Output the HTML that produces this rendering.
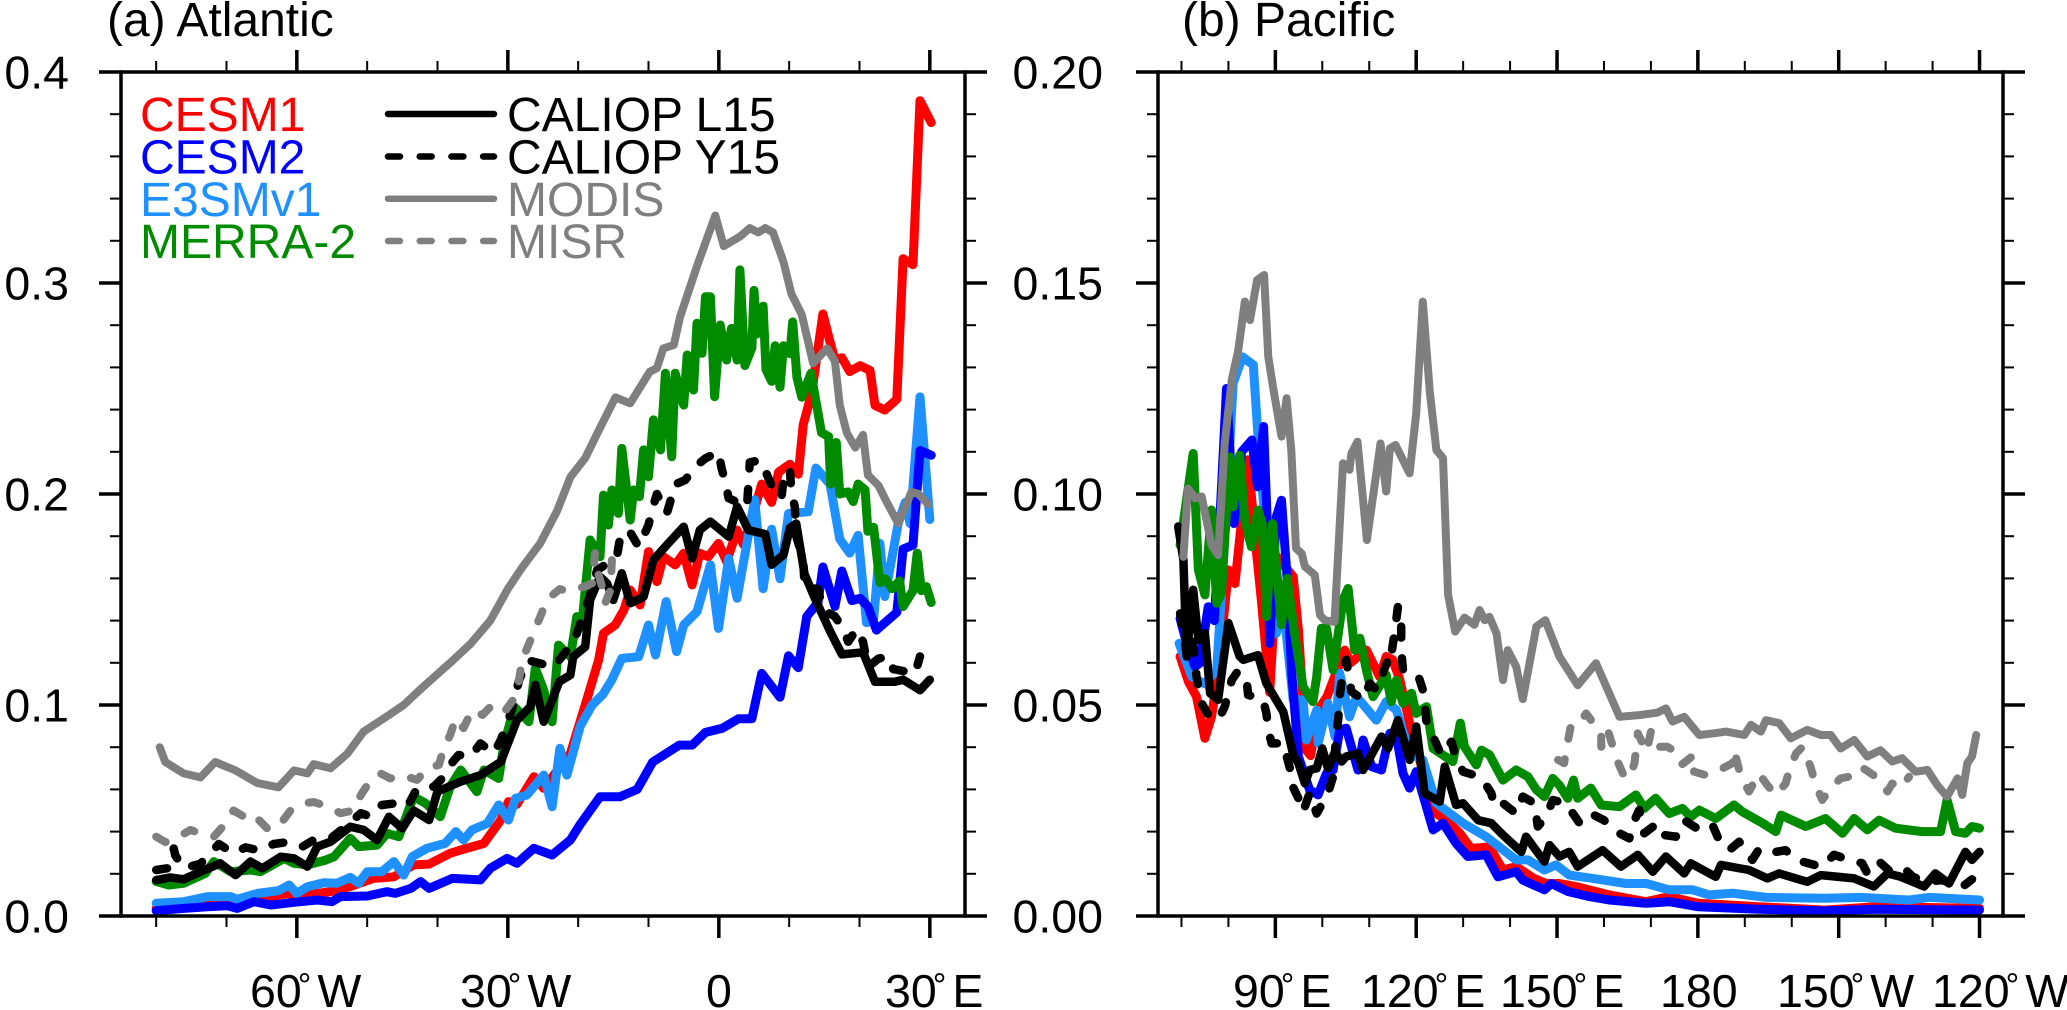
<!DOCTYPE html>
<html lang="en">
<head>
<meta charset="utf-8">
<title>Atlantic and Pacific aerosol optical depth</title>
<style>
html,body{margin:0;padding:0;background:#fff;}
svg{display:block;}
text{font-family:"Liberation Sans",Arial,Helvetica,sans-serif;font-size:46.5px;fill:#000;}
.big{font-size:48px;}
.deg{font-size:34px;}
</style>
</head>
<body>
<svg id="chart" xmlns="http://www.w3.org/2000/svg" width="2067" height="1010" viewBox="0 0 2067 1010">
  <text class="big" x="107" y="36">(a) Atlantic</text>
  <text class="big" x="1182" y="36">(b) Pacific</text>
  <g id="plots"></g>
  <g id="axes"></g>

  <g>
    <text x="250" y="1007">60<tspan class="deg" dx="-4" dy="-10">°</tspan><tspan dx="6" dy="10">W</tspan></text>
    <text x="460" y="1007">30<tspan class="deg" dx="-4" dy="-10">°</tspan><tspan dx="6" dy="10">W</tspan></text>
    <text x="706" y="1007">0</text>
    <text x="885" y="1007">30<tspan class="deg" dx="-4" dy="-10">°</tspan><tspan dx="6" dy="10">E</tspan></text>
  </g>
  <g>
    <text x="1233" y="1007">90<tspan class="deg" dx="-4" dy="-10">°</tspan><tspan dx="6" dy="10">E</tspan></text>
    <text x="1361" y="1007">120<tspan class="deg" dx="-4" dy="-10">°</tspan><tspan dx="6" dy="10">E</tspan></text>
    <text x="1500" y="1007">150<tspan class="deg" dx="-4" dy="-10">°</tspan><tspan dx="6" dy="10">E</tspan></text>
    <text x="1660" y="1007">180</text>
    <text x="1777" y="1007">150<tspan class="deg" dx="-4" dy="-10">°</tspan><tspan dx="6" dy="10">W</tspan></text>
    <text x="1932" y="1007">120<tspan class="deg" dx="-4" dy="-10">°</tspan><tspan dx="6" dy="10">W</tspan></text>
  </g>

  <g>
    <text class="big" x="140" y="131" style="fill:#ff0000">CESM1</text>
    <text class="big" x="140" y="173.5" style="fill:#0000ff">CESM2</text>
    <text class="big" x="140" y="216" style="fill:#1e90ff">E3SMv1</text>
    <text class="big" x="140" y="258" style="fill:#008b00">MERRA-2</text>
    <line x1="388" x2="494" y1="114" y2="114" stroke="#000" stroke-width="6.5" stroke-linecap="round"/>
    <line x1="388" x2="494" y1="156.5" y2="156.5" stroke="#000" stroke-width="6.5" stroke-linecap="round" stroke-dasharray="12 19.7"/>
    <line x1="388" x2="494" y1="198.7" y2="198.7" stroke="#7f7f7f" stroke-width="6.5" stroke-linecap="round"/>
    <line x1="388" x2="494" y1="241" y2="241" stroke="#7f7f7f" stroke-width="6.5" stroke-linecap="round" stroke-dasharray="12 19.7"/>
    <text class="big" x="507" y="131">CALIOP L15</text>
    <text class="big" x="507" y="173.5">CALIOP Y15</text>
    <text class="big" x="507" y="216" style="fill:#7f7f7f">MODIS</text>
    <text class="big" x="507" y="258" style="fill:#7f7f7f">MISR</text>
  </g>
</svg>

<script>
/* Axis tick values and labels */
const atlYTicks=[0,0.1,0.2,0.3,0.4];
const atlYTickLabels=['0.0','0.1','0.2','0.3','0.4'];
const pacYTicks=[0,0.05,0.10,0.15,0.20];
const pacYTickLabels=['0.00','0.05','0.10','0.15','0.20'];
const atlXMajor=[-60,-30,0,30];
const atlXMinor=[-80,-70,-50,-40,-20,-10,10,20];
const pacXMajor=[90,120,150,180,210,240];
const pacXMinor=[70,80,100,110,130,140,160,170,190,200,220,230];

/* Atlantic series: longitude (degrees east, negative = west) and AOD */
const atlRedLon=[-80,-73.7,-69,-64.2,-61.4,-60,-55.2,-52.4,-49.1,-46.2,-43.4,-41.2,-38.2,-36.7,-33.4,-31,-29.9,-28.7,-26.3,-24.9,-21.1,-19,-17.1,-16.4,-14.7,-13.5,-12.6,-11.2,-10,-8.8,-7.9,-6.2,-5,-3.8,-2.7,-1.5,-0.05,1.1,2.6,3.5,5,6.1,7.5,8.5,10.1,11.3,12,13.2,14.8,15.8,16.5,17.5,18.6,20.1,21.5,22.2,23.6,25.3,26.2,27.6,28.6,30.2];
const atlRedAod=[.0036,.0052,.006,.0084,.0107,.0095,.0115,.014,.0178,.0186,.0242,.0246,.0297,.0313,.0344,.0455,.0542,.053,.066,.0605,.077,.1,.1213,.134,.138,.145,.1545,.1474,.1727,.1585,.1703,.1664,.1719,.1569,.1719,.1703,.1766,.1679,.1829,.176,.192,.2047,.196,.2104,.2141,.2094,.2328,.2478,.2853,.2721,.2637,.2646,.258,.2608,.2586,.242,.2398,.2449,.3115,.3087,.3864,.376];

const atlLightLon=[-80,-76.1,-72.7,-69.4,-68.5,-65.6,-62.6,-61.1,-60,-58.5,-56.2,-54.3,-52.4,-51.2,-50,-47.9,-46.2,-44.8,-43.6,-41.5,-38.9,-37.4,-36.3,-35.1,-32.9,-31.3,-29.9,-28.9,-27.3,-24.9,-23.7,-22.6,-21.6,-19.7,-18,-16.5,-15.2,-13.8,-11.4,-10,-9,-7.5,-6,-5,-3.1,-1.2,-0.05,1.4,2.6,5.1,6.3,7.5,8.7,9.9,12.7,13.8,15.8,17.2,18.6,19.8,21,22,22.9,23.6,25.5,26.5,27.2,28.6,30];
const atlLightAod=[.006,.0068,.0092,.0092,.0079,.0107,.012,.0147,.0107,.0139,.0158,.0155,.0183,.0155,.021,.021,.0258,.0194,.0281,.0321,.0344,.04,.036,.0408,.0439,.0526,.0455,.0558,.0573,.0668,.0518,.0795,.0668,.09,.10,.105,.112,.1221,.1229,.1379,.1237,.149,.1253,.1379,.1442,.1664,.1363,.1695,.1506,.1973,.1551,.1833,.1598,.1907,.1916,.2123,.2047,.1786,.172,.1804,.139,.14,.1766,.1514,.186,.196,.186,.246,.1879];

const atlBlueLon=[-80,-76.1,-72.7,-69.9,-68.5,-66.1,-63.7,-60.4,-57.1,-55,-53.8,-50,-47.2,-46,-43.8,-42.4,-41.2,-37.9,-33.9,-32.5,-30.1,-28.7,-26.3,-23.7,-21.1,-19.7,-16.9,-14.1,-11.6,-9.4,-5.6,-3.8,-1.9,.5,2.8,4.7,6.1,8.7,9.9,11.3,12.5,14.1,14.8,16.5,17.5,18.9,20.1,21.2,22.4,25.3,26.2,27.6,28.6,30.2];
const atlBlueAod=[.0025,.0036,.0044,.0049,.0036,.0068,.0052,.0065,.0076,.0068,.0092,.0095,.0115,.0107,.0131,.0163,.0131,.0178,.0171,.0226,.0273,.025,.0321,.0289,.036,.0435,.0565,.0565,.06,.073,.081,.081,.087,.089,.0935,.0935,.115,.1037,.1233,.1177,.142,.1486,.1654,.1467,.1635,.1495,.1505,.1467,.1355,.1439,.1739,.1758,.2206,.2184];

const atlGreenLon=[-80,-78.2,-76.1,-73,-71.8,-69.4,-66.6,-65.2,-61.8,-60.4,-58.5,-55.9,-54.7,-52.4,-51.2,-48.6,-47.2,-45.5,-43.4,-41.7,-39.6,-38.2,-36.7,-34.4,-33.4,-31.3,-30.6,-29.1,-27,-26.1,-24.9,-23.7,-22.8,-21.1,-20.2,-19.5,-18.3,-16.9,-16.4,-15.7,-15.2,-14.3,-13.8,-12.6,-12.1,-11.3,-10.7,-10,-9.3,-8.3,-7.6,-6.7,-6.2,-5,-4.5,-3.6,-3.1,-2.4,-1.9,-1.2,-0.6,.2,1.1,1.8,2.6,3,3.7,4.7,5,5.4,6.3,6.7,7.5,8,8.7,9.2,10.1,10.5,11.1,11.8,13.1,14.6,15.6,15.9,16.7,17.2,18.4,19.1,19.8,20.8,21.2,22,22.9,23.7,24.6,25.7,26.2,27.6,28.2,28.8,29.5,30.2];
const atlGreenAod=[.0164,.0147,.0155,.0202,.0258,.021,.0218,.021,.0273,.025,.0242,.0265,.0281,.0368,.0329,.0336,.0392,.0376,.0566,.0534,.0471,.0613,.0692,.0589,.0692,.0652,.0802,.0992,.0921,.1174,.1071,.0921,.1284,.1229,.1419,.1371,.1782,.1703,.1995,.1853,.2019,.1908,.2216,.1877,.2019,.1987,.2209,.2082,.2351,.2209,.2572,.2177,.2572,.2422,.2659,.2493,.2809,.2667,.2935,.2935,.2461,.2801,.2635,.2785,.2635,.3062,.2609,.2693,.2965,.2759,.289,.259,.2534,.2703,.2506,.2703,.2665,.2815,.2553,.2459,.2572,.2291,.2272,.2047,.2244,.2,.201,.1964,.2047,.2019,.1823,.1842,.1579,.1598,.1551,.1588,.1467,.1542,.172,.1542,.1561,.1486];

const atlL15Lon=[-80,-78,-76.1,-73.7,-70.9,-68.7,-66.6,-64.9,-62.3,-60.4,-58.5,-57.1,-55.2,-52.4,-50.5,-48.6,-46.9,-45,-43.4,-41.2,-40,-36.7,-33.9,-31,-28.7,-26.8,-26.1,-24.9,-22.7,-21.1,-20.7,-19,-18.3,-16.9,-15.9,-15,-13.8,-12.6,-10.7,-9.3,-7.2,-5,-3.8,-2.7,-1.2,1.4,2.6,4.2,6.6,7.5,9.2,10.1,11,12.2,13.6,15.8,17.5,20.5,22.2,25,26.2,28.6,30];
const atlL15Aod=[.017,.0183,.0174,.021,.025,.0194,.0258,.0226,.0281,.0273,.0234,.0329,.0352,.0423,.0408,.036,.047,.0415,.05,.0455,.059,.0637,.0668,.0731,.0929,.0992,.1095,.0921,.111,.1142,.1229,.1276,.1498,.1608,.1577,.1498,.1624,.1482,.1513,.1687,.1766,.1845,.1695,.1829,.1869,.1798,.194,.1829,.181,.1665,.1712,.184,.186,.162,.151,.135,.124,.125,.111,.111,.112,.107,.112];

const atlY15Lon=[-80,-78.4,-77.5,-77.3,-76.1,-73.7,-72.3,-71.1,-69,-67.3,-65.2,-63.3,-60.9,-59.2,-57.6,-55.2,-52.8,-50.9,-49.5,-47.9,-46,-44.3,-42.9,-40.5,-39.1,-38.2,-37,-35.3,-33.9,-32,-31,-29.9,-29.4,-28.4,-27.2,-23.5,-20.6,-18.5,-17.3,-14.5,-14,-12.8,-11.4,-10,-9.5,-8.8,-7.4,-6.9,-6.4,-4.8,-3.1,-1.9,-.05,.4,.9,1.4,4,4.4,5.8,6.6,7.5,8.9,9.2,10.1,10.3,10.8,11,12,12.2,14.1,14.8,16.5,17.7,18.4,19.6,20.5,21.2,22.7,24.1,24.8,27.9,28.6];
const atlY15Aod=[.0218,.0226,.032,.0288,.0226,.0248,.0297,.0341,.0297,.0325,.031,.0341,.0352,.0329,.036,.0368,.0431,.0487,.0471,.0526,.0534,.0518,.0605,.0613,.066,.0716,.0763,.0755,.0818,.0771,.0834,.0929,.0984,.1118,.1213,.118,.13,.15,.164,.17,.18,.183,.175,.1853,.1924,.20,.1908,.1964,.2043,.2066,.2137,.2169,.22,.2122,.2058,.198,.194,.215,.216,.211,.204,.198,.207,.212,.201,.194,.18,.169,.156,.155,.145,.142,.136,.13,.136,.13,.118,.122,.123,.117,.115,.123];

const atlModisLon=[-79.5,-78.7,-76.1,-73.7,-71.6,-68.7,-65.6,-62.6,-60.4,-58.5,-57.6,-55.2,-52.8,-50.5,-47.6,-44.8,-42,-38.2,-35.3,-32.5,-30,-28,-25.4,-23,-21.1,-19,-17.1,-14.7,-12.6,-9.8,-8.8,-7.9,-6.4,-5.5,-3.1,-0.5,.7,3,4.4,5.6,6.6,7.7,9.2,10.3,11.8,13.4,15.4,16.5,17.2,18.2,19.4,20.5,21.2,22.7,23.9,25.5,27.4,28.4,29.8];
const atlModisAod=[.08,.073,.0676,.0657,.073,.069,.063,.061,.069,.0676,.072,.07,.077,.0874,.0937,.10,.1087,.12,.129,.14,.155,.165,.1766,.192,.208,.217,.23,.2458,.243,.258,.2596,.269,.2706,.284,.308,.332,.3175,.322,.326,.324,.326,.324,.31,.295,.285,.262,.269,.263,.242,.229,.222,.228,.209,.204,.196,.186,.201,.2,.195];

const atlMisrLon=[-80,-78.7,-76.8,-75.1,-73.7,-71.8,-70.1,-69,-67.5,-66.6,-65.4,-64,-62.1,-60.9,-59.2,-57.6,-55.5,-53.8,-51.9,-50.9,-49.8,-48.1,-46.7,-45,-42.9,-41.5,-39.8,-39.1,-38.2,-37.4,-36.3,-35.1,-33.6,-32,-30.3,-28.9,-28.4,-28,-27.5,-25.2,-24.5,-22.6,-21.4,-19.2,-18,-17.6,-17.3,-16.6,-16.2,-15.4,-15.2];
const atlMisrAod=[.0376,.035,.0376,.0408,.039,.0376,.044,.05,.047,.0487,.0455,.0408,.0447,.05,.0534,.054,.0518,.0487,.05,.0573,.0629,.0676,.0652,.0668,.0645,.07,.0716,.0795,.0858,.0937,.089,.0976,.0953,.1008,.0976,.104,.112,.121,.125,.1434,.1498,.155,.1537,.156,.1577,.172,.164,.156,.148,.1545,.1687];

/* Pacific series: longitude (degrees east, 0-360) and AOD */
const pacRedLon=[69.7,71.5,73.2,75,76.4,77.8,80,81.4,82.8,84.2,86,87,88.8,90.5,93.8,94.9,96.6,97.5,99.1,101,104.8,106,109.4,112.2,113.6,115,116.5,118.6,120.4,122.2,124.3,126.4,129.3,131.7,135.6,138.5,141.3,144.9,147.7,150.5,154,161.1,168.9,173.9,180,193,207,217.9,240];
const pacRedAod=[.0615,.0555,.052,.0421,.0472,.0575,.082,.0788,.0938,.1081,.0859,.075,.053,.085,.0804,.0678,.0393,.038,.0488,.052,.063,.06,.063,.0567,.0615,.0607,.056,.0457,.0385,.0306,.0243,.0227,.0196,.016,.0164,.0109,.0117,.009,.0077,.0077,.007,.005,.0034,.0046,.003,.0022,.0014,.0022,.0018];

const pacLightLon=[69.5,72.2,75,77.5,79.3,81,83,85.3,86.3,87.4,88.8,90.2,91.7,93.8,95.9,96.6,98.8,99.1,101.2,102.7,103.7,105.8,107.3,111.5,113.6,115.8,118.6,121.4,124.3,130,134.9,141.3,143.8,147.3,149.8,152.6,157.6,164.7,169,173.9,178.9,182.4,187.4,194.5,207.2,214.7,225,229.2,240];
const pacLightAod=[.0646,.0567,.055,.0583,.0907,.1262,.1325,.1306,.1136,.0986,.08,.067,.0737,.0512,.0512,.0417,.0488,.0409,.0504,.0425,.0575,.0472,.052,.0464,.0508,.0488,.0385,.037,.0267,.022,.0188,.0133,.0133,.0109,.0121,.0097,.0089,.0077,.0077,.0062,.0062,.005,.0054,.0044,.0042,.0044,.0038,.0044,.0038];

const pacBlueLon=[69.7,71,72.9,73.9,75.7,77,78,79.6,81.2,82.8,85,86.2,87.5,88.2,88.8,90.2,91.3,92.4,93.5,94.9,97.3,99.1,100.9,102.3,103.7,105.1,107.6,108.7,110.5,112.6,114.4,115.8,117.2,118.6,120,123.6,125.7,128.5,131,134.9,137.4,141.3,142.7,147.3,148.8,152.3,156.9,161.1,168.9,173.9,180,193,207,217.9,240];
const pacBlueAod=[.0705,.065,.0591,.0599,.0733,.07,.09,.125,.093,.11,.1128,.1017,.116,.0954,.0646,.0946,.0985,.082,.0575,.0378,.0299,.0287,.0338,.0346,.0441,.0445,.0346,.0417,.0354,.0346,.0433,.0425,.0338,.0303,.0342,.0204,.022,.0172,.0141,.0145,.0093,.0105,.0085,.0062,.0077,.0058,.0046,.0038,.003,.0034,.0022,.0016,.0012,.0016,.0014];

const pacGreenLon=[69.7,72.5,73.6,75,76.4,77.5,78.5,80.3,81,82.4,83.5,84.9,86.3,87.2,88.1,89.4,91.3,92.5,94.1,95.9,98,98.8,99.8,100.9,102.3,104.4,105.5,106.9,108,109.4,110.8,113.6,114.7,115.8,117.2,119,120,122.2,123.6,127.8,129.4,130.3,132.8,133.9,135.6,138.5,141.3,143.8,145.6,147.3,149.1,150.5,152.3,153.5,154.4,157.2,159.4,163.3,166.8,168.6,171,173.9,176.7,178.5,180.3,183.8,187.7,189.5,193.8,196.6,197.7,203,207.2,210.8,213.3,216.1,218.6,222.1,227.8,231.7,233.1,234.9,237,238.4,240];
const pacGreenAod=[.0879,.1096,.082,.0761,.0962,.0741,.0765,.1088,.097,.1092,.0938,.0875,.0962,.093,.0709,.093,.069,.08,.067,.0543,.0508,.0567,.0682,.0682,.0583,.0749,.0776,.063,.0658,.0583,.052,.0571,.0508,.0559,.0504,.0528,.048,.0496,.0397,.0366,.0457,.0401,.0358,.0393,.0382,.0322,.0346,.033,.0299,.0283,.0326,.031,.0279,.0322,.0279,.0303,.0263,.0259,.0287,.0255,.0279,.0243,.0255,.0235,.0251,.0231,.0263,.0247,.022,.02,.0239,.0212,.0231,.0196,.0231,.0204,.0227,.0208,.02,.02,.0275,.02,.0196,.0212,.0208];

const pacL15Lon=[69.3,70.4,71.1,72.5,73.6,75,76.1,77.8,80,82.4,83.2,86.3,88.1,91.7,93.8,94.9,96.3,97.3,98.8,100,101.2,102.7,104.1,105.1,107.6,108.7,112.6,114,116.1,118.6,120,121.8,125,126.1,128.5,130,133.2,136,138.5,142.4,143.4,147.3,148.4,150.5,152.6,154.4,159.7,163.6,167.2,170.4,173.2,177.1,178.5,183.8,184.9,190.9,194.8,197.3,203.3,206.2,213.3,217.5,220.4,223.2,228.2,230.6,233.5,237,238.4,240];
const pacL15Aod=[.0923,.0844,.0615,.0773,.0654,.067,.0528,.0512,.0694,.0615,.0607,.0618,.0551,.0484,.0382,.0362,.0314,.0346,.035,.0397,.035,.0389,.0366,.0378,.0385,.0346,.0425,.0397,.0464,.037,.0449,.0291,.0271,.0354,.0263,.0267,.0227,.022,.0192,.0152,.0188,.0129,.0168,.0141,.0152,.0117,.0156,.0117,.0145,.0105,.0141,.0101,.0125,.0093,.0121,.0109,.0089,.0101,.0081,.0097,.0089,.007,.0101,.0093,.007,.0101,.0077,.0152,.0133,.0152];

const pacY15Lon=[69.7,71.1,72,73.2,74.3,75.5,77.8,79.2,80.7,82,83.9,84.2,87.4,88.1,88.5,89.2,91.7,93.1,93.4,94.9,95.9,97.3,98.8,101.2,102.3,103,103.4,103.7,104.4,105.1,106.2,108.7,110.1,111.5,114,114.4,115.4,116.1,116.8,116.8,117.2,120.4,121.4,121.8,122.2,123.6,125.3,127.5,128.5,130,132.4,134.2,136,136.7,138.5,141.3,142.7,145.2,145.9,147.7,149.1,151.9,154.8,157.2,160,162.6,165.4,166.5,167.5,168.6,171.4,172.8,175.3,177.1,180.3,183.1,184.5,186.7,188.8,191.6,193.1,196.6,198.7,200.9,204.8,206.5,209,212.2,215,216.1,218.6,221.4,224.3,225.8,228.5,232,233.1,236,238.4];
const pacY15Aod=[.0717,.0622,.07,.0567,.0504,.048,.0464,.0496,.0559,.058,.0559,.0524,.0512,.048,.0441,.0409,.0409,.035,.0314,.0279,.0247,.0291,.0243,.0291,.033,.0433,.0468,.052,.0583,.0607,.0532,.0512,.0551,.0536,.0607,.0599,.067,.0733,.0701,.063,.0583,.0571,.0536,.0504,.046,.0425,.0382,.0413,.0374,.0342,.0334,.0322,.0291,.0259,.0267,.0243,.0283,.0267,.0212,.0235,.0275,.0267,.022,.0243,.0227,.02,.0184,.0227,.0251,.0196,.022,.0192,.0188,.0227,.0204,.0216,.018,.0156,.0176,.0133,.016,.0152,.0156,.0133,.0121,.0117,.0145,.0133,.0125,.0101,.0129,.0101,.0109,.0093,.0081,.0085,.0081,.0066,.0087];

const pacModisLon=[70.4,71.4,72.9,74.3,76.4,77.8,79.2,80.7,82.1,83.5,84.6,86.1,87.6,88.5,89.5,91.3,92.4,93.4,94.4,95.6,96.3,98.4,99.5,100.5,102.6,104.4,105.8,106.2,107.5,109.5,112.4,113.6,114.4,115.6,118.6,120,121.4,122.9,124.3,125.7,126.8,128.3,130.3,132.4,133.5,134.6,135.6,137.1,138.5,139.5,141.3,142.7,145.6,147.5,150.5,154.4,158.3,160.8,163.3,167.5,171.4,173.2,174.6,177.1,180.3,183.5,186,189.9,191.3,193.4,194.5,197.3,199.8,203.3,206.2,208.3,210.4,213.3,216.1,218.9,221.4,223.5,226.4,228.9,231,233.1,235.3,236.3,237.4,238.4,239.3];
const pacModisAod=[.0851,.1013,.099,.0994,.0879,.0855,.112,.127,.1341,.1456,.1412,.1507,.1519,.1325,.1254,.1136,.1227,.1104,.0871,.0859,.0828,.0808,.0713,.0701,.0697,.1073,.1057,.1096,.1124,.0891,.112,.1006,.1108,.1116,.1049,.1191,.1456,.1242,.1104,.1085,.0761,.0674,.0707,.069,.0725,.0701,.0709,.067,.0559,.063,.0591,.0514,.0686,.0701,.0615,.0547,.0599,.0536,.0472,.0476,.0482,.0492,.0461,.0472,.0429,.0433,.0437,.0429,.0453,.0437,.0464,.0457,.0421,.0441,.0429,.0429,.0397,.0417,.0378,.0393,.0366,.0374,.0342,.0346,.031,.0283,.0326,.0287,.0362,.0378,.0429];

const pacMisrLon=[150.2,151.5,152.3,153,154.8,156.2,158,159.4,159.4,160.8,161.8,162.9,164,165.4,166.5,167.2,169.1,170,171,173.5,176,176.7,179.2,179.2,181.7,183.5,185.3,187.4,187.7,189.2,190.9,193,194.8,196.6,198.7,199.6,200.9,202.3,204,205.1,206.5,208.3,210.4,212.2,214.7,217.9,220.4,221.4,223.2,225];
const pacMisrAod=[.037,.0362,.0413,.0453,.0457,.048,.0453,.0437,.0401,.0441,.0405,.0366,.0338,.0326,.0362,.0433,.0389,.0437,.0401,.0401,.0385,.036,.0382,.0342,.0334,.0342,.035,.0362,.0393,.033,.0295,.0338,.031,.0287,.0314,.035,.0385,.0401,.0354,.031,.0275,.0303,.0326,.033,.0354,.033,.0295,.0314,.0303,.033];

/* Axis functions */
function xAtl(lon){return 121+(lon+85)*(844/120);}
function yAtl(v){return 916-v*(844/0.4);}
function xPac(lon){return 1158+(lon-65)*(845/180);}
function yPac(v){return 916-v*(844/0.2);}

const SVGNS='http://www.w3.org/2000/svg';
const plots=document.getElementById('plots');
const axes=document.getElementById('axes');

function linePath(lons,vals,xf,yf){
  let d='';
  for(let i=0;i<lons.length;i++){
    d+=(i?'L':'M')+xf(lons[i]).toFixed(1)+' '+yf(vals[i]).toFixed(1);
  }
  return d;
}

function drawSeries(name,lons,vals,xf,yf,color,width,dashed){
  const p=document.createElementNS(SVGNS,'path');
  
  
  p.setAttribute('d',linePath(lons,vals,xf,yf));
  p.setAttribute('fill','none');
  p.setAttribute('stroke',color);
  p.setAttribute('stroke-width',width);
  p.setAttribute('stroke-linejoin','round');
  p.setAttribute('stroke-linecap','round');
  if(dashed){p.setAttribute('stroke-dasharray','11 20.7');}
  plots.appendChild(p);
}

function tickLine(name,x1,y1,x2,y2,w){
  const l=document.createElementNS(SVGNS,'line');
  
  
  l.setAttribute('x1',x1);
  l.setAttribute('y1',y1);
  l.setAttribute('x2',x2);
  l.setAttribute('y2',y2);
  l.setAttribute('stroke','#000');
  l.setAttribute('stroke-width',w);
  axes.appendChild(l);
}

function yTickText(name,x,y,str){
  const t=document.createElementNS(SVGNS,'text');
  
  
  t.setAttribute('x',x);
  t.setAttribute('y',y);
  t.setAttribute('text-anchor','end');
  t.textContent=str;
  axes.appendChild(t);
}

function drawPanel(id,xf,yf,xLo,xHi,yTicks,yLabels,yMinorStep,yMax,xMajor,xMinor,labelRight){
  const L=xf(xLo),R=xf(xHi),T=yf(yMax),B=yf(0);
  for(const lon of xMajor){
    tickLine(id+'-x-major-tick-bottom',xf(lon),B,xf(lon),B+22,3.5);
    tickLine(id+'-x-major-tick-top',xf(lon),T,xf(lon),T-22,3.5);
  }
  for(const lon of xMinor){
    tickLine(id+'-x-minor-tick-bottom',xf(lon),B,xf(lon),B+11,2);
    tickLine(id+'-x-minor-tick-top',xf(lon),T,xf(lon),T-11,2);
  }
  const minorCount=Math.round(yMax/yMinorStep);
  for(let i=0;i<=minorCount;i++){
    const v=i*yMinorStep;
    if(i%5===0){continue;}
    tickLine(id+'-y-minor-tick-left',L,yf(v),L-11,yf(v),2);
    tickLine(id+'-y-minor-tick-right',R,yf(v),R+11,yf(v),2);
  }
  yTicks.forEach(function(v,i){
    tickLine(id+'-y-major-tick-left',L,yf(v),L-22,yf(v),3.5);
    tickLine(id+'-y-major-tick-right',R,yf(v),R+22,yf(v),3.5);
    yTickText(id+'-y-label',labelRight,yf(v)+16.5,yLabels[i]);
  });
  tickLine(id+'-axis-left',L,T-1.75,L,B+1.75,3.5);
  tickLine(id+'-axis-right',R,T-1.75,R,B+1.75,3.5);
  tickLine(id+'-axis-top',L,T,R,T,3.5);
  tickLine(id+'-axis-bottom',L,B,R,B,3.5);
}

const RED='#ff0000',LIGHT='#1e90ff',BLUE='#0000ff',GREEN='#008b00',BLACK='#000000',GRAY='#7f7f7f';

drawSeries('atlantic-cesm1-line',atlRedLon,atlRedAod,xAtl,yAtl,RED,9,false);
drawSeries('atlantic-e3smv1-line',atlLightLon,atlLightAod,xAtl,yAtl,LIGHT,9,false);
drawSeries('atlantic-cesm2-line',atlBlueLon,atlBlueAod,xAtl,yAtl,BLUE,9,false);
drawSeries('atlantic-merra2-line',atlGreenLon,atlGreenAod,xAtl,yAtl,GREEN,9,false);
drawSeries('atlantic-caliop-l15-line',atlL15Lon,atlL15Aod,xAtl,yAtl,BLACK,8.5,false);
drawSeries('atlantic-caliop-y15-line',atlY15Lon,atlY15Aod,xAtl,yAtl,BLACK,8.5,true);
drawSeries('atlantic-modis-line',atlModisLon,atlModisAod,xAtl,yAtl,GRAY,8,false);
drawSeries('atlantic-misr-line',atlMisrLon,atlMisrAod,xAtl,yAtl,GRAY,8,true);

drawSeries('pacific-cesm1-line',pacRedLon,pacRedAod,xPac,yPac,RED,9,false);
drawSeries('pacific-e3smv1-line',pacLightLon,pacLightAod,xPac,yPac,LIGHT,9,false);
drawSeries('pacific-cesm2-line',pacBlueLon,pacBlueAod,xPac,yPac,BLUE,9,false);
drawSeries('pacific-merra2-line',pacGreenLon,pacGreenAod,xPac,yPac,GREEN,9,false);
drawSeries('pacific-caliop-l15-line',pacL15Lon,pacL15Aod,xPac,yPac,BLACK,8.5,false);
drawSeries('pacific-caliop-y15-line',pacY15Lon,pacY15Aod,xPac,yPac,BLACK,8.5,true);
drawSeries('pacific-modis-line',pacModisLon,pacModisAod,xPac,yPac,GRAY,8,false);
drawSeries('pacific-misr-line',pacMisrLon,pacMisrAod,xPac,yPac,GRAY,8,true);

drawPanel('atlantic',xAtl,yAtl,-85,35,atlYTicks,atlYTickLabels,0.02,0.4,atlXMajor,atlXMinor,69);
drawPanel('pacific',xPac,yPac,65,245,pacYTicks,pacYTickLabels,0.01,0.2,pacXMajor,pacXMinor,1103);
</script>
</body>
</html>
